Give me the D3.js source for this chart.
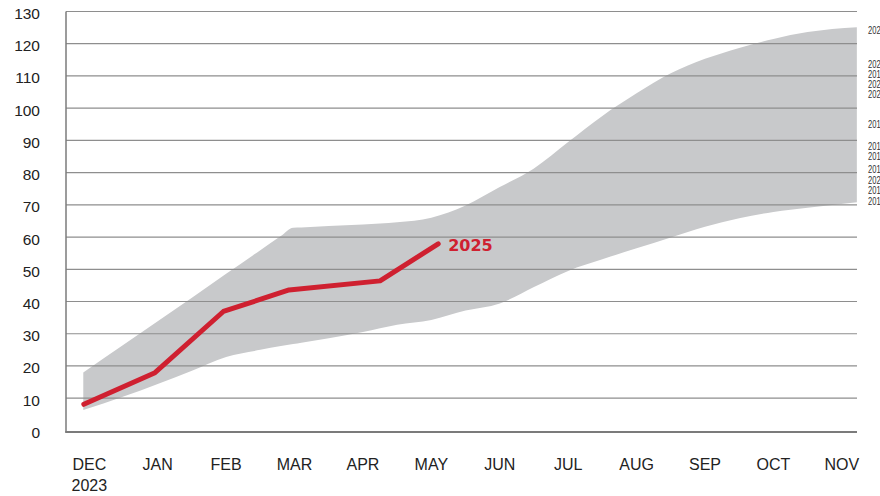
<!DOCTYPE html>
<html>
<head>
<meta charset="utf-8">
<script src="https://cdn.jsdelivr.net/npm/d3@7"></script>
<style>
  body { margin: 0; background: #fff; }
  svg { display: block; }
</style>
</head>
<body>
<svg id="chart" width="880" height="496"></svg>
<script>
const months = ["DEC", "JAN", "FEB", "MAR", "APR", "MAY", "JUN", "JUL", "AUG", "SEP", "OCT", "NOV"]
const yTicks = [0, 10, 20, 30, 40, 50, 60, 70, 80, 90, 100, 110, 120, 130]

// range of earlier years (min / max), position in months from DEC
const bandPos  = [-0.088, 0.5, 1, 1.5, 2, 2.5, 2.8, 2.98, 3.1, 3.5, 4, 4.5, 5, 5.5, 6, 6.5, 7, 7.5, 8, 8.5, 9, 9.5, 10, 10.5, 11.22]
const bandHigh = [18, 26.6, 33.9, 41.2, 48.6, 55.9, 60.3, 62.9, 63.0, 63.4, 63.9, 64.6, 66, 69.8, 75.5, 81.3, 89.5, 97.6, 104.6, 110.8, 115.3, 118.7, 121.5, 123.6, 125.1]
const bandLow  = [6.3, 10.5, 14.4, 18.5, 22.8, 25, 26.2, 26.8, 27.2, 28.6, 30.5, 32.8, 34.3, 37.2, 39.4, 44.5, 49.5, 53.1, 56.5, 59.9, 63.2, 65.8, 67.8, 69.1, 70.8]

// 2025 series
const pos2025 = [-0.08, 0.96, 1.96, 2.92, 4.25, 5.1]
const val2025 = [8.1, 17.9, 36.9, 43.6, 46.4, 57.9]

// year-end labels on the right
const endYears  = ["2023", "2022", "2019", "2021", "2020", "2018", "2017", "2016", "2015", "2024", "2014", "2013"]
const endValues = [124.1, 113.6, 110.5, 107.4, 104.2, 94.9, 88.3, 84.9, 81.1, 77.7, 74.5, 71.2]

const svg = d3.select("#chart")
const font = "'Liberation Sans', Arial, sans-serif"

const x = d3.scaleLinear().domain([0, 11]).range([89.3, 841.8])
const y = d3.scaleLinear().domain([0, 130]).range([430.4, 11.5])
const left = 66, right = 857

// band
const area = d3.area()
  .x((d, i) => x(bandPos[i]))
  .y0((d, i) => y(bandLow[i]))
  .y1((d, i) => y(bandHigh[i]))
  .curve(d3.curveMonotoneX)

svg.append("path")
   .attr("d", area(bandPos))
   .attr("fill", "#c8c9cb")

// gridlines
svg.append("g")
   .selectAll("line")
   .data(yTicks.filter(t => t > 0))
   .enter()
   .append("line")
   .attr("x1", left)
   .attr("x2", right)
   .attr("y1", t => y(t))
   .attr("y2", t => y(t))
   .attr("stroke", "#8e8e8e")
   .attr("stroke-width", 1.2)

// axis frame
svg.append("line")
   .attr("x1", left).attr("x2", left)
   .attr("y1", y(130)).attr("y2", y(0) + 2)
   .attr("stroke", "#7b7b7b").attr("stroke-width", 1.5)
svg.append("line")
   .attr("x1", left - 0.75).attr("x2", right)
   .attr("y1", y(0) + 1.5).attr("y2", y(0) + 1.5)
   .attr("stroke", "#7b7b7b").attr("stroke-width", 2)

// y labels
const yAxis = d3.axisLeft(y).tickValues(yTicks).tickSize(0).tickPadding(0)
svg.append("g")
   .attr("transform", "translate(40, 2)")
   .call(yAxis)
   .call(g => g.select(".domain").remove())
   .selectAll("text")
   .attr("font-family", font)
   .attr("font-size", 15.5)
   .attr("fill", "#222")

// x labels
const xLabels = svg.append("g")
xLabels.selectAll("text")
   .data(months)
   .enter()
   .append("text")
   .attr("x", (d, i) => x(i))
   .attr("y", 470)
   .attr("text-anchor", "middle")
   .attr("font-family", font)
   .attr("font-size", 16)
   .attr("fill", "#222")
   .text(d => d)
xLabels.append("text")
   .attr("x", x(0))
   .attr("y", 490.7)
   .attr("text-anchor", "middle")
   .attr("font-family", font)
   .attr("font-size", 16)
   .attr("fill", "#222")
   .text("2023")

// 2025 line
const line = d3.line()
  .x((d, i) => x(pos2025[i]))
  .y((d, i) => y(val2025[i]))

svg.append("path")
   .attr("d", line(pos2025))
   .attr("fill", "none")
   .attr("stroke", "#cf2030")
   .attr("stroke-width", 5)
   .attr("stroke-linecap", "round")
   .attr("stroke-linejoin", "round")

const last = pos2025.length - 1
svg.append("text")
   .attr("x", x(pos2025[last]) + 10)
   .attr("y", y(val2025[last]) + 7.5)
   .attr("font-family", "'DejaVu Sans', sans-serif")
   .attr("font-weight", "bold")
   .attr("font-size", 16)
   .attr("fill", "#cf2030")
   .text("2025")

// end-of-year labels (condensed, run off the right edge like the original)
const labelX = 868
svg.append("g")
   .attr("transform", `translate(${labelX},0) scale(0.72,1)`)
   .selectAll("text")
   .data(endYears)
   .enter()
   .append("text")
   .attr("x", 0)
   .attr("y", (d, i) => y(endValues[i]))
   .attr("dy", "0.35em")
   .attr("font-family", font)
   .attr("font-size", 10.5)
   .attr("fill", "#333")
   .text(d => d)
</script>
</body>
</html>
